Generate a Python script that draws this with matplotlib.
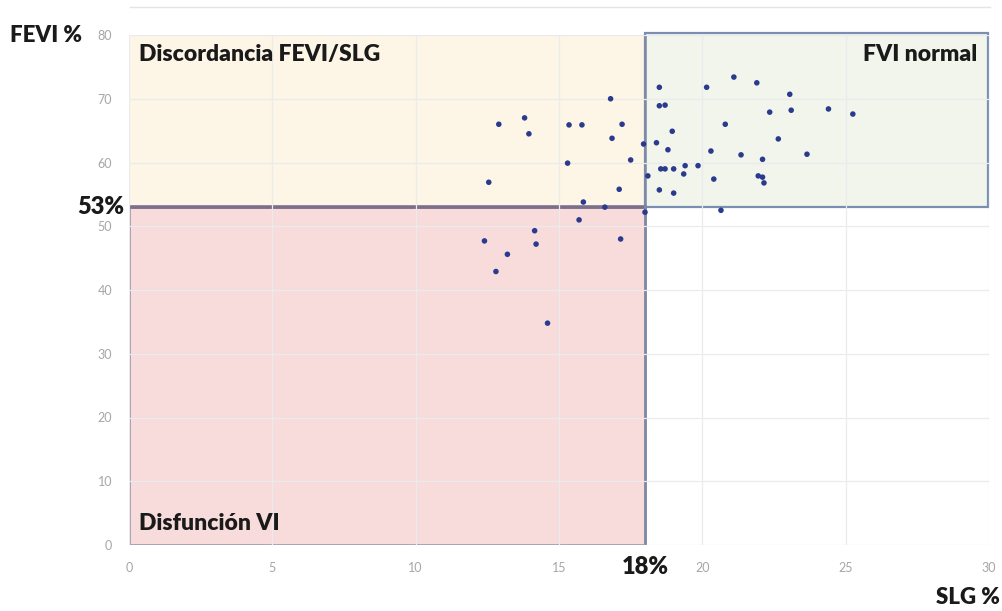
import matplotlib.pyplot as plt
from matplotlib.patches import Rectangle
from matplotlib.lines import Line2D

# SLG % (x) and FEVI % (y) for each patient
slg = [12.4, 14.15, 14.2, 13.2, 12.8, 14.6, 15.7, 17.15,
       12.55, 12.9, 13.8, 13.95, 15.35, 15.8, 15.3, 15.85, 16.6, 16.8, 16.85, 17.2, 17.5, 17.1,
       17.95, 18.0, 18.4, 18.1, 18.5, 18.5, 18.5, 18.7, 18.8, 18.95, 18.55, 18.7, 19.0, 19.4,
       19.35, 19.85, 19.0, 20.15, 21.1, 21.9, 23.05, 22.35, 23.1, 24.4, 25.25, 20.8, 22.65,
       20.3, 21.35, 22.1, 23.65, 20.4, 21.95, 22.1, 22.15, 20.65]
fevi = [47.7, 49.3, 47.2, 45.6, 42.9, 34.8, 51.0, 48.0,
        56.9, 66.0, 67.0, 64.5, 65.9, 65.9, 59.9, 53.8, 53.0, 70.0, 63.8, 66.0, 60.4, 55.8,
        62.9, 52.2, 63.1, 57.9, 55.7, 71.8, 68.9, 69.0, 62.0, 64.9, 59.0, 59.0, 59.0, 59.5,
        58.2, 59.5, 55.2, 71.8, 73.4, 72.5, 70.7, 67.9, 68.2, 68.4, 67.6, 66.0, 63.7,
        61.8, 61.2, 60.5, 61.3, 57.4, 57.9, 57.7, 56.8, 52.5]

slg_cut = 18
fevi_cut = 53
x_ticks = [0, 5, 10, 15, 20, 25, 30]
y_ticks = [0, 10, 20, 30, 40, 50, 60, 70, 80]

plt.rcParams['font.family'] = ['Lato', 'DejaVu Sans']

fig = plt.figure(figsize=(10.03, 6.11), dpi=100)
ax = fig.add_axes([129/1003, 66/611, 860/1003, 510/611])
ax.set_xlim(0, 30)
ax.set_ylim(0, 80)

# quadrant boxes
ax.add_patch(Rectangle((0, fevi_cut), slg_cut, 80 - fevi_cut, facecolor='#fdf6e7',
                       edgecolor='#c9c6d6', lw=1.2, zorder=0.5))
ax.add_patch(Rectangle((slg_cut, fevi_cut), 30 - slg_cut - 0.05, 80.3 - fevi_cut, facecolor='#f1f5eb',
                       edgecolor='#7a8db3', lw=1.6, zorder=0.5, clip_on=False))
ax.add_patch(Rectangle((0, 0), slg_cut, fevi_cut, facecolor='#f8dcdc',
                       edgecolor='#8c82a0', lw=1.8, zorder=0.6))
ax.plot([0, slg_cut], [fevi_cut, fevi_cut], color='#7c6f8c', lw=2.6, zorder=1)
ax.plot([slg_cut, slg_cut], [0, 80], color='#7f8aa8', lw=1.8, zorder=1)

ax.set_xticks(x_ticks)
ax.set_yticks(y_ticks)
ax.grid(True, color='#ebebeb', lw=0.9, zorder=0.7)
ax.set_axisbelow(False)
for s in ax.spines.values():
    s.set_visible(False)
ax.tick_params(length=0, labelsize=9, colors='#a6a6a6', pad=12)

ax.scatter(slg, fevi, s=16, color='#2a3a8c', edgecolors='none', zorder=3)

# labels
lab = dict(fontweight='heavy', color='#1a1a1a')
ax.text(0.35, 78.6, 'Discordancia FEVI/SLG', fontsize=16.5, va='top', ha='left', **lab)
ax.text(29.6, 78.6, 'FVI normal', fontsize=16.5, va='top', ha='right', **lab)
ax.text(0.35, 1.8, 'Disfunción VI', fontsize=16.5, va='bottom', ha='left', **lab)

fig.text(10/1003, 1 - 35/611, 'FEVI %', fontsize=16, va='center', ha='left', **lab)
fig.text(1000/1003, 1 - 597/611, 'SLG %', fontsize=16, va='center', ha='right', **lab)
ax.text(-0.15, fevi_cut, f'{fevi_cut}%', fontsize=17, va='center', ha='right', **lab)
ax.text(slg_cut, -3.4, f'{slg_cut}%', fontsize=17, va='center', ha='center', **lab)

fig.add_artist(Line2D([130/1003, 990/1003], [1 - 7/611, 1 - 7/611], color='#e4e4e4', lw=1))

fig.savefig('out.png', dpi=100)
